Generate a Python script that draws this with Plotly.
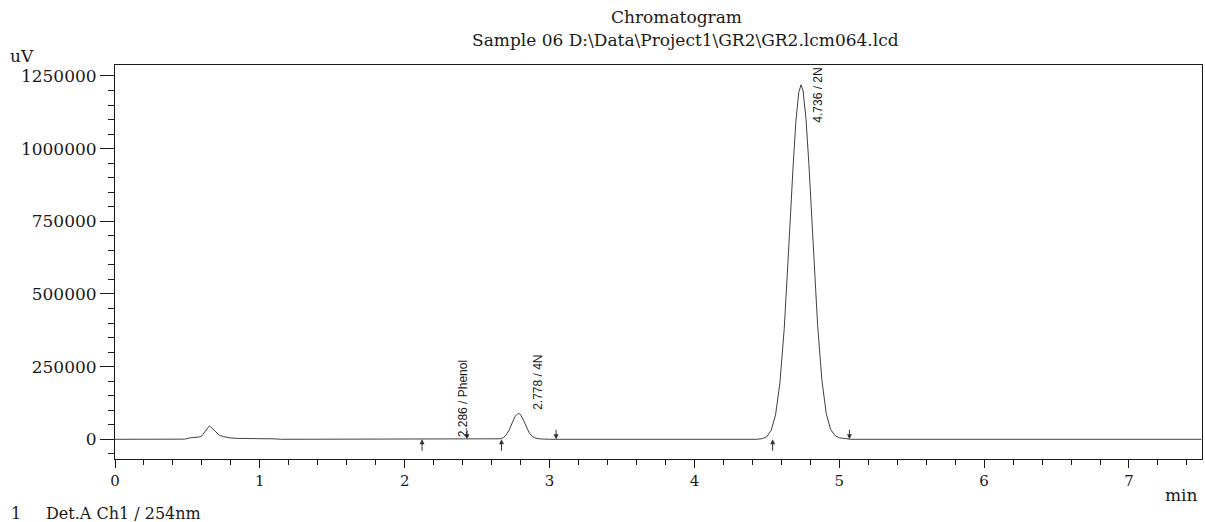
import plotly.graph_objects as go

# ---------------- data ----------------
time_min = [0.00, 0.45, 0.48, 0.52, 0.55, 0.58, 0.60, 0.62, 0.64, 0.651, 0.66, 0.68, 0.70, 0.72,
            0.75, 0.80, 0.85, 0.95, 1.05, 1.10, 1.15,
            2.60, 2.66, 2.68, 2.70, 2.72, 2.74, 2.76, 2.784, 2.80, 2.82, 2.84, 2.86, 2.88, 2.90,
            2.93, 2.96, 3.00,
            4.43, 4.47, 4.50, 4.53, 4.56, 4.59, 4.62, 4.64, 4.66, 4.68, 4.70, 4.72, 4.736, 4.75,
            4.77, 4.79, 4.81, 4.83, 4.85, 4.88, 4.91, 4.94, 4.97, 5.00, 5.04, 5.08, 7.50]
signal_uv = [0, 0, 500, 5000, 7000, 8000, 12000, 25000, 42000, 46000, 43000, 33000, 22000, 14000,
             9000, 4500, 3000, 3000, 3500, 1500, 0,
             0, 1700, 5500, 14500, 31000, 54000, 77000, 89500, 85000, 65000, 41000, 22000, 10000, 4500,
             1500, 500, 0,
             0, 2500, 9000, 31000, 84000, 193000, 381000, 549000, 740000, 930000, 1091000, 1193000,
             1220000, 1199000,
             1104000, 948000, 759000, 568000, 396000, 203000, 89000, 34000, 13000, 5000, 2000, 0, 0]

peak_times = [2.286, 2.778, 4.736]
peak_names = ["Phenol", "4N", "2N"]

mark_start_times = [2.12, 2.668, 4.54]   # baseline start markers (up arrows)
mark_end_times = [2.43, 3.045, 5.07]     # baseline end markers (down arrows)

y_tick_vals = [0, 250000, 500000, 750000, 1000000, 1250000]
x_tick_vals = [0, 1, 2, 3, 4, 5, 6, 7]

title_line1 = "Chromatogram"
title_line2 = "Sample 06 D:\\Data\\Project1\\GR2\\GR2.lcm064.lcd"
y_unit = "uV"
x_unit = "min"
channel_no = "1"
channel_text = "Det.A Ch1 / 254nm"

# ---------------- figure ----------------
SERIF = "DejaVu Serif"
INK = "#1a1a1a"

W, H = 1205, 522
L, R, T, B = 115, 3, 65, 63
pw, ph = W - L - R, H - T - B


def px_to_paper(px, py):
    return (px - L) / pw, (H - B - py) / ph


fig = go.Figure()
fig.add_trace(go.Scatter(x=time_min, y=signal_uv, mode="lines",
                         line=dict(color="#404040", width=1), hoverinfo="skip",
                         showlegend=False))

annotations = []
# integration markers
for t in mark_start_times:
    annotations.append(dict(x=t, y=0, xref="x", yref="y", text="", showarrow=True,
                            ax=0, ay=13, arrowhead=2, arrowsize=1, arrowwidth=1,
                            arrowcolor="#333333", standoff=0))
for t in mark_end_times:
    annotations.append(dict(x=t, y=0, xref="x", yref="y", text="", showarrow=True,
                            ax=0, ay=-11, arrowhead=2, arrowsize=1, arrowwidth=1,
                            arrowcolor="#333333", standoff=0))

# peak labels (rotated)
label_x = [2.40, 2.915, 4.855]
label_bottom = [4000, 97000, 1085000]
for t, name, lx, lb in zip(peak_times, peak_names, label_x, label_bottom):
    annotations.append(dict(x=lx, y=lb, xref="x", yref="y", text=f"{t:.3f} / {name}",
                            textangle=-90, showarrow=False, xanchor="center", yanchor="bottom",
                            font=dict(family="Liberation Sans Narrow, Liberation Sans, Arial", size=12, color=INK),
                            borderpad=0))

# titles and texts
t1x, t1y = px_to_paper(676, 17)
t2x, t2y = px_to_paper(685, 40)
annotations += [
    dict(x=t1x, y=t1y, xref="paper", yref="paper", text=title_line1, showarrow=False, borderpad=0,
         xanchor="center", yanchor="middle", font=dict(family=SERIF, size=17, color=INK)),
    dict(x=t2x, y=t2y, xref="paper", yref="paper", text=title_line2, showarrow=False, borderpad=0,
         xanchor="center", yanchor="middle", font=dict(family=SERIF, size=17, color=INK)),
]

ux, uy = px_to_paper(22, 56)
annotations.append(dict(x=ux, y=uy, xref="paper", yref="paper", text=y_unit, showarrow=False,
                        xanchor="center", yanchor="middle", font=dict(family=SERIF, size=17, color=INK)))
mx, my = px_to_paper(1200, 495)
annotations.append(dict(x=mx, y=my, xref="paper", yref="paper", text=x_unit, showarrow=False,
                        xanchor="right", yanchor="middle", font=dict(family=SERIF, size=17, color=INK)))
cx, cy = px_to_paper(9, 513)
annotations.append(dict(x=cx, y=cy, xref="paper", yref="paper", text=channel_no, showarrow=False,
                        xanchor="left", yanchor="middle", font=dict(family=SERIF, size=16, color=INK)))
dx, dy = px_to_paper(44, 513)
annotations.append(dict(x=dx, y=dy, xref="paper", yref="paper", text=channel_text, showarrow=False,
                        xanchor="left", yanchor="middle", font=dict(family=SERIF, size=16, color=INK)))

fig.update_layout(
    width=W, height=H,
    margin=dict(l=L, r=R, t=T, b=B, pad=0),
    paper_bgcolor="white", plot_bgcolor="white",
    showlegend=False,
    annotations=annotations,
    xaxis=dict(range=[0, 7.504], tickvals=x_tick_vals, ticktext=[str(v) for v in x_tick_vals],
               ticks="outside", ticklen=8, tickwidth=1, tickcolor=INK,
               minor=dict(dtick=0.2, ticks="outside", ticklen=5, tickwidth=1, tickcolor=INK, showgrid=False),
               showline=True, linecolor=INK, linewidth=1, mirror=True,
               showgrid=False, zeroline=False,
               tickfont=dict(family=SERIF, size=15, color=INK)),
    yaxis=dict(range=[-67800, 1287800], tickvals=y_tick_vals, ticktext=[str(v) for v in y_tick_vals],
               ticks="outside", ticklen=14, tickwidth=1, tickcolor=INK,
               minor=dict(dtick=50000, tick0=0, ticks="outside", ticklen=6, tickwidth=1, tickcolor=INK,
                          showgrid=False),
               showline=True, linecolor=INK, linewidth=1, mirror=True,
               showgrid=False, zeroline=False,
               tickfont=dict(family=SERIF, size=17, color=INK)),
)

fig.write_html("out.html")
